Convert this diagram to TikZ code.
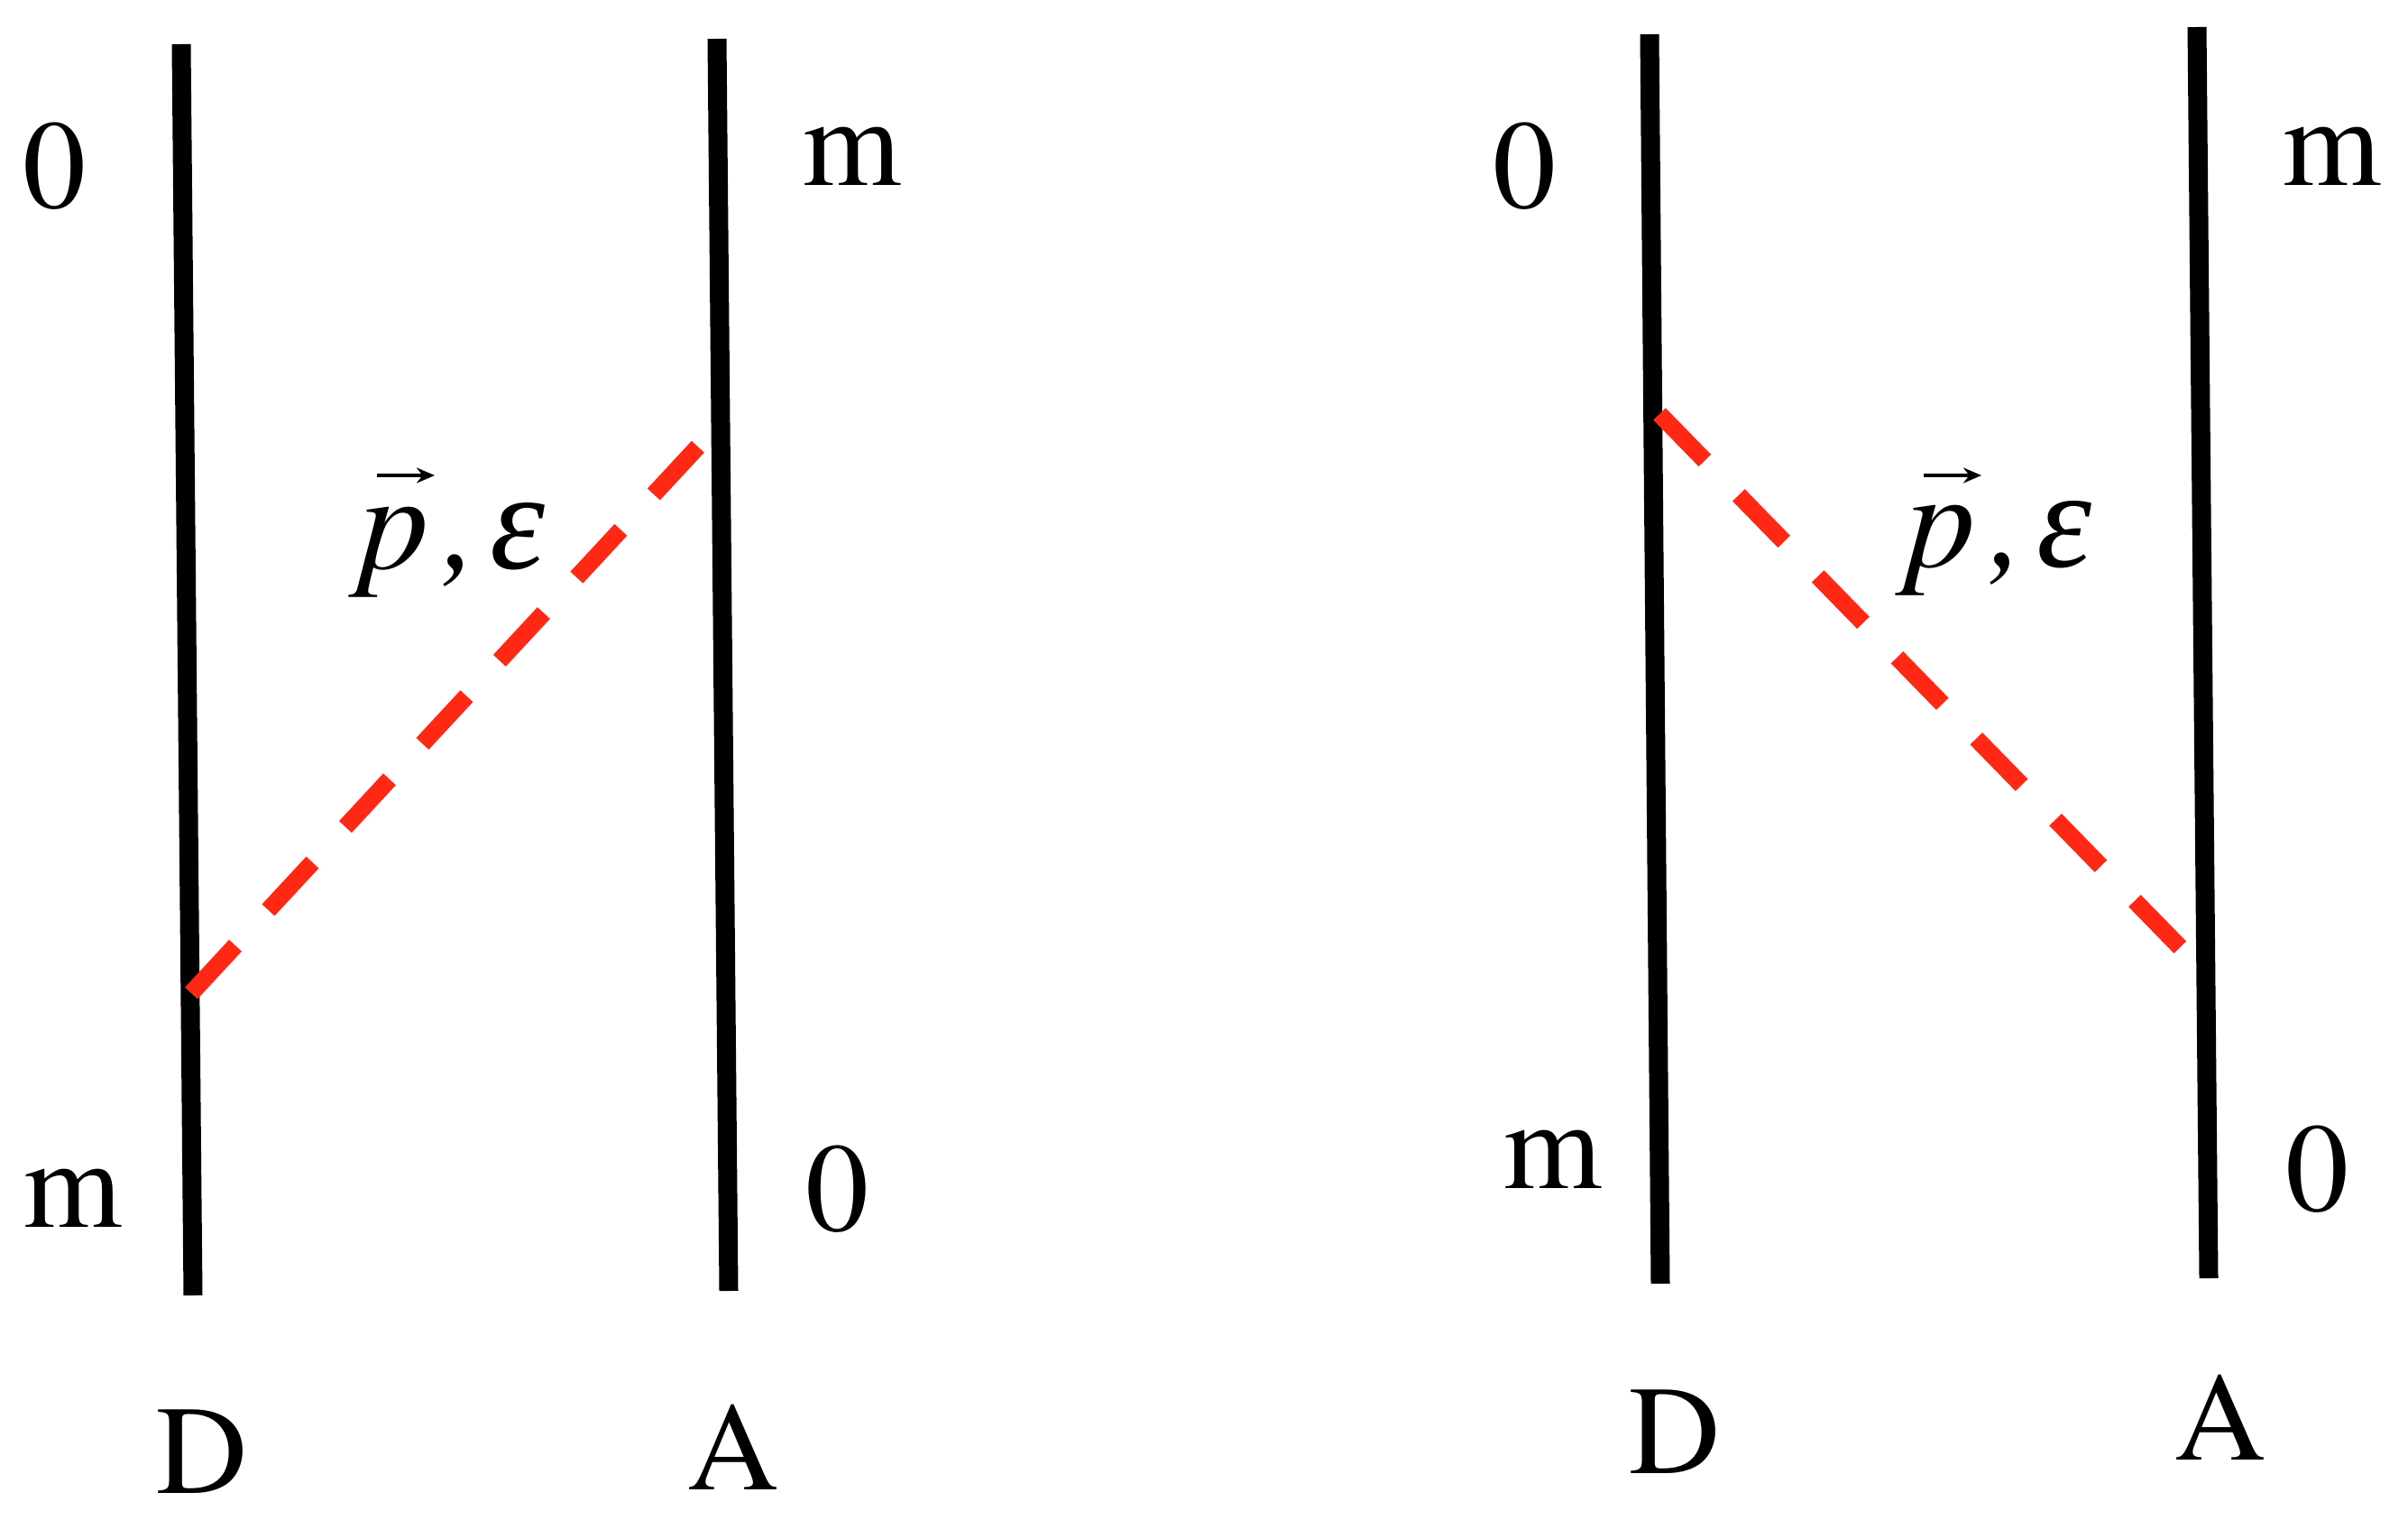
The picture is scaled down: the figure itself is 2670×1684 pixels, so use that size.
\documentclass[tikz,border=0pt]{standalone}
\usepackage{fontspec}
\usetikzlibrary{arrows.meta}
\setmainfont{texgyretermes}[Extension=.otf, UprightFont=*-regular, ItalicFont=*-italic, BoldFont=*-bold, BoldItalicFont=*-bolditalic]
\newfontfamily\grkfont{Liberation Serif}
\definecolor{dashred}{RGB}{255,40,20}
\tikzset{
  wire/.style={line width=21pt, line cap=butt, black},
  photon/.style={line width=19pt, dashred, dash pattern=on 72pt off 53.7pt},
  lbl/.style={inner sep=0pt, font=\fontsize{140}{160}\selectfont},
  mlbl/.style={inner sep=0pt, anchor=base west, font=\fontsize{155}{170}\selectfont},
  vecarrow/.style={line width=4pt, -{Stealth[length=20pt,width=17pt]}},
}
\newcommand{\pelabel}{\textit{p}\kern0.11em\textit{,}\kern0.08em{\grkfont\itshape ε}}
\begin{document}
\begin{tikzpicture}[x=1pt,y=-1pt]
\useasboundingbox (0,0) rectangle (2670,1684);
% left panel
\coordinate (LDt) at (201,49);
\coordinate (LDb) at (214,1436);
\coordinate (LAt) at (795,43);
\coordinate (LAb) at (808,1431);
\coordinate (Le1) at (212,1101);
\coordinate (Le2) at (774,495);
\draw[wire] (LDt) -- (LDb);
\draw[wire] (LAt) -- (LAb);
\draw[photon] (Le1) -- (Le2);
\node[lbl] (L0t) at (60,184) {0};
\node[lbl] (Lmt) at (945,173) {m};
\node[lbl] (Lmb) at (81,1328) {m};
\node[lbl] (L0b) at (928,1318) {0};
\node[lbl] (LD) at (224,1609) {D};
\node[lbl] (LA) at (813,1604) {A};
\node[mlbl] (Lpe) at (398,630) {\pelabel};
\draw[vecarrow] ([shift={(20,-103)}]Lpe.base west) -- ([shift={(84,-103)}]Lpe.base west);
% right panel
\coordinate (RDt) at (1829,38);
\coordinate (RDb) at (1841,1423);
\coordinate (RAt) at (2436,30);
\coordinate (RAb) at (2449,1417);
\coordinate (Re1) at (1840,459);
\coordinate (Re2) at (2420,1053);
\draw[wire] (RDt) -- (RDb);
\draw[wire] (RAt) -- (RAb);
\draw[photon] (Re1) -- (Re2);
\node[lbl] (R0t) at (1690,184) {0};
\node[lbl] (Rmt) at (2586,173) {m};
\node[lbl] (Rmb) at (1722,1285) {m};
\node[lbl] (R0b) at (2569,1296) {0};
\node[lbl] (RD) at (1857,1587) {D};
\node[lbl] (RA) at (2462,1571) {A};
\node[mlbl] (Rpe) at (2113,628) {\pelabel};
\draw[vecarrow] ([shift={(20,-101)}]Rpe.base west) -- ([shift={(84,-101)}]Rpe.base west);
\end{tikzpicture}
\end{document}
